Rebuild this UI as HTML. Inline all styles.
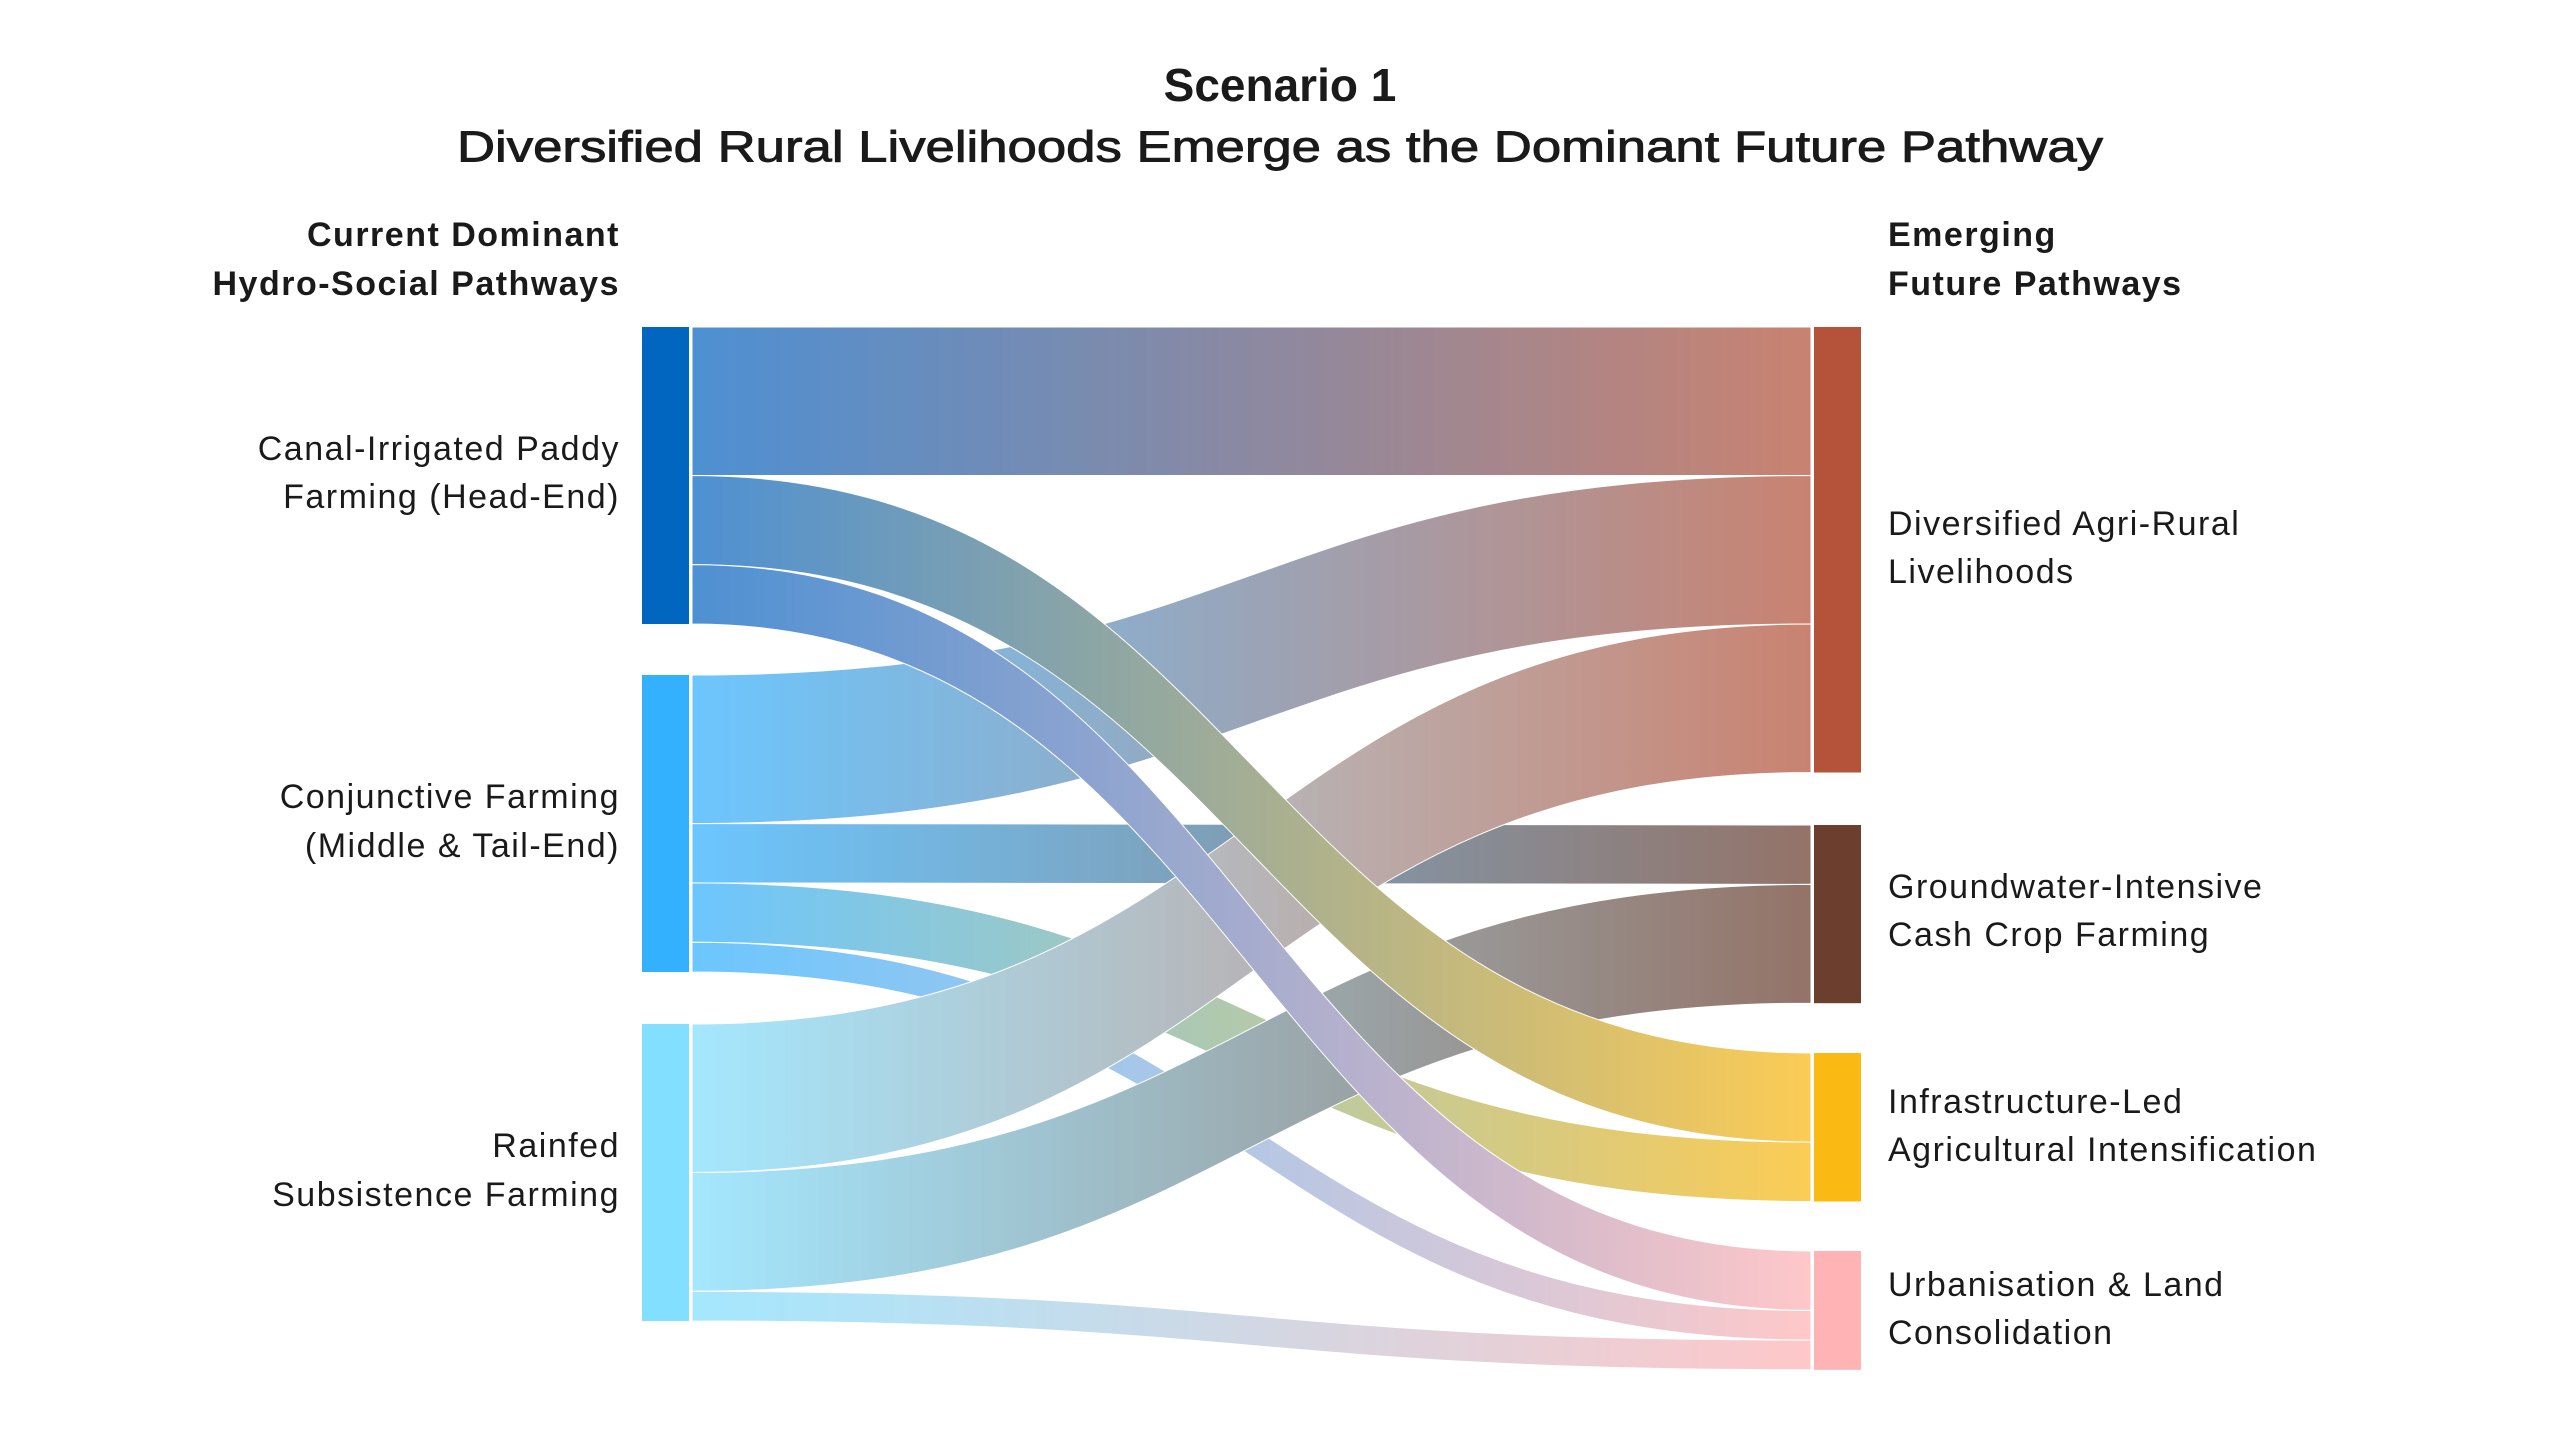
<!DOCTYPE html>
<html><head><meta charset="utf-8"><style>
html,body{margin:0;padding:0;background:#fff;}
svg{display:block;}
text{font-family:"Liberation Sans",sans-serif;fill:#1a1a1a;}
</style></head><body>
<svg width="2560" height="1440" viewBox="0 0 2560 1440" xmlns="http://www.w3.org/2000/svg">
<defs>
<linearGradient id="g11" gradientUnits="userSpaceOnUse" x1="692" x2="1811" y1="0" y2="0"><stop offset="0" stop-color="#0a66c2"/><stop offset="1" stop-color="#b5533a"/></linearGradient>
<linearGradient id="g13" gradientUnits="userSpaceOnUse" x1="692" x2="1811" y1="0" y2="0"><stop offset="0" stop-color="#0a66c2"/><stop offset="1" stop-color="#fbb914"/></linearGradient>
<linearGradient id="g14" gradientUnits="userSpaceOnUse" x1="692" x2="1811" y1="0" y2="0"><stop offset="0" stop-color="#0a66c2"/><stop offset="1" stop-color="#ffb3b5"/></linearGradient>
<linearGradient id="g21" gradientUnits="userSpaceOnUse" x1="692" x2="1811" y1="0" y2="0"><stop offset="0" stop-color="#33b1ff"/><stop offset="1" stop-color="#b5533a"/></linearGradient>
<linearGradient id="g22" gradientUnits="userSpaceOnUse" x1="692" x2="1811" y1="0" y2="0"><stop offset="0" stop-color="#33b1ff"/><stop offset="1" stop-color="#6b3e2e"/></linearGradient>
<linearGradient id="g23" gradientUnits="userSpaceOnUse" x1="692" x2="1811" y1="0" y2="0"><stop offset="0" stop-color="#33b1ff"/><stop offset="1" stop-color="#fbb914"/></linearGradient>
<linearGradient id="g24" gradientUnits="userSpaceOnUse" x1="692" x2="1811" y1="0" y2="0"><stop offset="0" stop-color="#33b1ff"/><stop offset="1" stop-color="#ffb3b5"/></linearGradient>
<linearGradient id="g31" gradientUnits="userSpaceOnUse" x1="692" x2="1811" y1="0" y2="0"><stop offset="0" stop-color="#82dfff"/><stop offset="1" stop-color="#b5533a"/></linearGradient>
<linearGradient id="g32" gradientUnits="userSpaceOnUse" x1="692" x2="1811" y1="0" y2="0"><stop offset="0" stop-color="#82dfff"/><stop offset="1" stop-color="#6b3e2e"/></linearGradient>
<linearGradient id="g34" gradientUnits="userSpaceOnUse" x1="692" x2="1811" y1="0" y2="0"><stop offset="0" stop-color="#82dfff"/><stop offset="1" stop-color="#ffb3b5"/></linearGradient>
</defs>

<text x="1280" y="85" text-anchor="middle" dominant-baseline="central" font-size="46" font-weight="bold">Scenario 1</text>
<text x="1280" y="147" text-anchor="middle" dominant-baseline="central" font-size="44" stroke="#1a1a1a" stroke-width="0.9" textLength="1646" lengthAdjust="spacingAndGlyphs">Diversified Rural Livelihoods Emerge as the Dominant Future Pathway</text>

<g font-size="34" font-weight="bold" dominant-baseline="central" letter-spacing="1.5">
<text x="620" y="235" text-anchor="end">Current Dominant</text>
<text x="620" y="284" text-anchor="end">Hydro-Social Pathways</text>
<text x="1888" y="235">Emerging</text>
<text x="1888" y="284">Future Pathways</text>
</g>

<g opacity="0.72" stroke="#fff" stroke-width="1">
<path fill="url(#g21)" d="M692,675 C1251,675 1251,475.5 1811,475.5 L1811,624 C1251,624 1251,823.5 692,823.5 Z"/>
<path fill="url(#g22)" d="M692,823.5 C1251,823.5 1251,825 1811,825 L1811,884.4 C1251,884.4 1251,882.9 692,882.9 Z"/>
<path fill="url(#g23)" d="M692,882.9 C1251,882.9 1251,1142.1 1811,1142.1 L1811,1201.5 C1251,1201.5 1251,942.3 692,942.3 Z"/>
<path fill="url(#g24)" d="M692,942.3 C1251,942.3 1251,1310.4 1811,1310.4 L1811,1340.1 C1251,1340.1 1251,972 692,972 Z"/>
<path fill="url(#g31)" d="M692,1024 C1251,1024 1251,624 1811,624 L1811,772.5 C1251,772.5 1251,1172.5 692,1172.5 Z"/>
<path fill="url(#g32)" d="M692,1172.5 C1251,1172.5 1251,884.4 1811,884.4 L1811,1003.2 C1251,1003.2 1251,1291.3 692,1291.3 Z"/>
<path fill="url(#g34)" d="M692,1291.3 C1251,1291.3 1251,1340.1 1811,1340.1 L1811,1369.8 C1251,1369.8 1251,1321 692,1321 Z"/>
<path fill="url(#g11)" d="M692,327 C1251,327 1251,327 1811,327 L1811,475.5 C1251,475.5 1251,475.5 692,475.5 Z"/>
<path fill="url(#g13)" d="M692,475.5 C1251,475.5 1251,1053 1811,1053 L1811,1142.1 C1251,1142.1 1251,564.6 692,564.6 Z"/>
<path fill="url(#g14)" d="M692,564.6 C1251,564.6 1251,1251 1811,1251 L1811,1310.4 C1251,1310.4 1251,624 692,624 Z"/>
</g>

<rect x="642" y="327" width="47" height="297" fill="#0066c0"/>
<rect x="642" y="675" width="47" height="297" fill="#33b1ff"/>
<rect x="642" y="1024" width="47" height="297" fill="#82dfff"/>
<rect x="1814" y="327" width="47" height="445.5" fill="#b5533a"/>
<rect x="1814" y="825" width="47" height="178.2" fill="#6b3e2e"/>
<rect x="1814" y="1053" width="47" height="148.5" fill="#fbb914"/>
<rect x="1814" y="1251" width="47" height="118.8" fill="#ffb3b5"/>

<g font-size="34" dominant-baseline="central" letter-spacing="1.5">
<text x="620" y="449" text-anchor="end">Canal-Irrigated Paddy</text>
<text x="620" y="497" text-anchor="end">Farming (Head-End)</text>
<text x="620" y="797" text-anchor="end">Conjunctive Farming</text>
<text x="620" y="846" text-anchor="end">(Middle &amp; Tail-End)</text>
<text x="620" y="1146" text-anchor="end">Rainfed</text>
<text x="620" y="1195" text-anchor="end">Subsistence Farming</text>
<text x="1888" y="524">Diversified Agri-Rural</text>
<text x="1888" y="572">Livelihoods</text>
<text x="1888" y="887">Groundwater-Intensive</text>
<text x="1888" y="935">Cash Crop Farming</text>
<text x="1888" y="1102">Infrastructure-Led</text>
<text x="1888" y="1150">Agricultural Intensification</text>
<text x="1888" y="1285">Urbanisation &amp; Land</text>
<text x="1888" y="1333">Consolidation</text>
</g>
</svg>
</body></html>
